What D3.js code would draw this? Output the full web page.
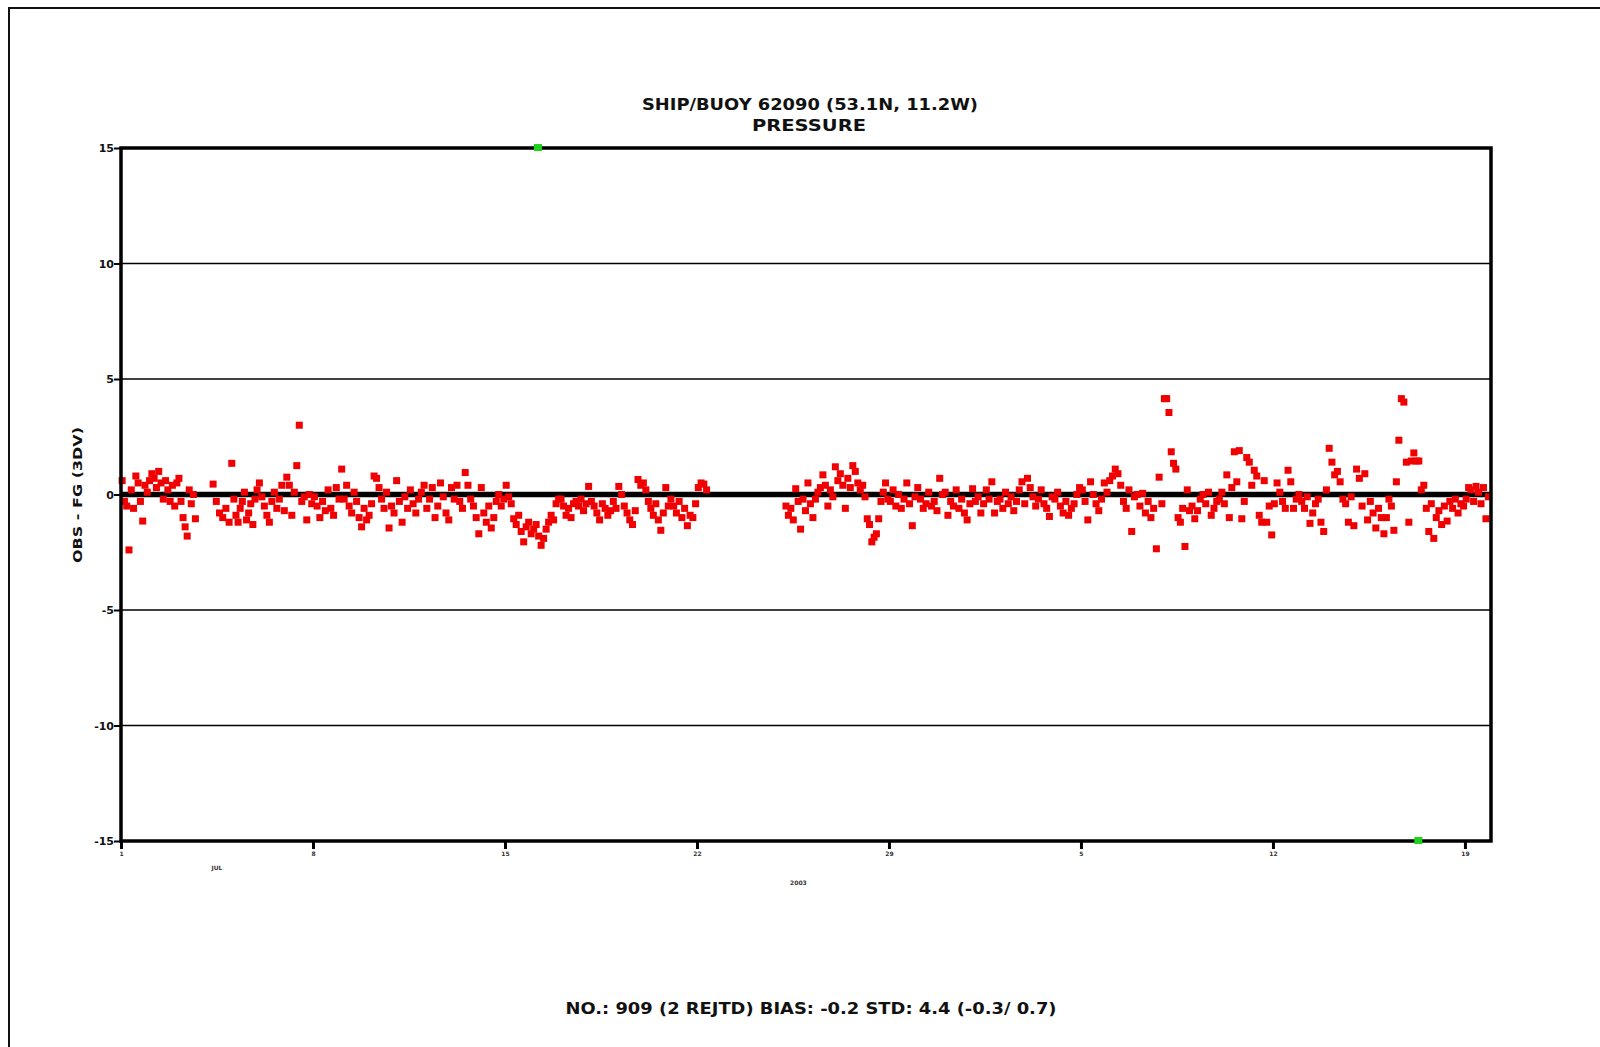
<!DOCTYPE html>
<html>
<head>
<meta charset="utf-8">
<script src="https://cdn.jsdelivr.net/npm/d3@7"></script>
<style>
  body { margin: 0; background: #fff; }
  svg { display: block; }
  text { font-family: "DejaVu Sans", Verdana, sans-serif; font-weight: bold; fill: #111; }
</style>
</head>
<body>
<div id="viz"></div>
<script>
// title / footer
var titleLines = ["SHIP/BUOY 62090 (53.1N, 11.2W)", "PRESSURE"];
var footer = "NO.: 909 (2 REJTD) BIAS: -0.2 STD: 4.4 (-0.3/ 0.7)";
var yTitle = "OBS - FG (3DV)";

// axis ticks (x in days after 1 Jul 2003)
var yTicks = [-15, -10, -5, 0, 5, 10, 15];
var xTickDays = [0, 7, 14, 21, 28, 35, 42, 49];
var xTickLabels = ["1", "8", "15", "22", "29", "5", "12", "19"];
var xMonthLabels = [{day: 3.5, text: "JUL", row: 1}, {day: 24.7, text: "2003", row: 2}];

// observation stretches: start day, end day, values (OBS - FG, hPa)
var segStart = [0, 1, 2, 3.3, 4, 5, 6, 7, 8, 9, 10, 11, 12, 13, 14, 15, 16, 17, 18, 19, 20, 21,
                24.2, 25, 26, 27, 28, 29, 30, 31, 32, 33, 34, 35, 36, 37, 38, 39, 40, 41, 42, 43, 44, 45, 46, 47, 48, 49];
var segEnd =   [1, 2, 2.75, 4, 5, 6, 7, 8, 9, 10, 11, 12, 13, 14, 15, 16, 17, 18, 19, 20, 21, 21.4,
                25, 26, 27, 28, 29, 30, 31, 32, 33, 34, 35, 36, 37, 38, 39, 40, 41, 42, 43, 44, 45, 46, 47, 48, 49, 49.9];
var segValues = [
  [0.6, -0.3, -0.5, -2.4, 0.2, -0.6, 0.8, 0.5, -0.3, -1.15, 0.4, 0.1],
  [0.6, 0.9, 0.7, 0.3, 1.0, 0.5, -0.2, 0.6, 0.2, -0.3, 0.4, -0.5],
  [0.5, 0.7, -0.3, -1.0, -1.4, -1.8, 0.2, -0.4, 0.0, -1.05],
  [0.45, -0.3, -0.8, -1.0, -0.6, -1.2],
  [1.35, -0.2, -0.9, -1.2, -0.6, -0.3, 0.1, -1.1, -0.8, -0.4, -1.3, -0.2, 0.2],
  [0.5, -0.1, -0.5, -0.9, -1.2, -0.3, 0.1, -0.6, -0.2, 0.4, -0.7],
  [0.75, 0.4, -0.9, 0.1, 1.25, 3.0, -0.3, -0.1, -1.1, 0.0, -0.4],
  [-0.1, -0.5, -1.0, -0.3, -0.7, 0.2, -0.6, -0.9, 0.3, -0.2],
  [1.1, -0.2, 0.4, -0.5, -0.8, 0.1, -0.3, -1.0, -1.4, -0.6, -1.1],
  [-0.9, -0.4, 0.8, 0.7, 0.3, -0.2, -0.6, 0.1, -1.45, -0.5, -0.8],
  [0.6, -0.3, -1.2, -0.1, -0.6, 0.2, -0.4, -0.8, -0.2, 0.1],
  [0.4, -0.6, -0.2, 0.3, -1.0, -0.5, 0.5, -0.1, -0.8, -1.1],
  [0.3, -0.2, 0.4, -0.3, -0.6, 0.95, 0.4, -0.2, -0.5, -1.0],
  [-1.7, 0.3, -0.8, -1.2, -0.5, -1.45, -1.0, -0.3, 0.0, -0.5, -0.2],
  [0.4, -0.1, -0.4, -1.05, -1.3, -0.9, -1.6, -2.05, -1.4, -1.2, -1.7],
  [-1.5, -1.3, -1.8, -2.2, -1.9, -1.5, -1.2, -0.9, -1.1, -0.4, -0.2],
  [-0.2, -0.5, -0.9, -0.6, -1.0, -0.4, -0.3, -0.5, -0.2, -0.7, -0.4],
  [0.35, -0.3, -0.5, -0.8, -1.1, -0.4, -0.6, -0.9, -0.7, -0.3],
  [-0.6, 0.35, 0.0, -0.5, -0.8, -1.1, -1.3, -0.7, 0.65, 0.4],
  [0.5, 0.2, -0.3, -0.6, -0.9, -0.4, -1.1, -1.55, -0.8, 0.3, -0.5],
  [-0.2, -0.5, -0.8, -0.3, -1.0, -0.6, -1.35, -0.9, -1.0, -0.4],
  [0.3, 0.5, 0.45, 0.2],
  [-0.5, -0.9, -0.6, -1.1, 0.25, -0.3, -1.5, -0.2, -0.7],
  [0.5, -0.4, -1.0, -0.2, 0.1, 0.3, 0.85, 0.4, -0.5, 0.2, -0.1],
  [1.2, 0.6, 0.9, 0.4, -0.6, 0.7, 0.3, 1.25, 1.0, 0.5, 0.2],
  [0.4, -0.1, -1.05, -1.3, -2.05, -1.85, -1.7, -1.05, -0.3, 0.1, 0.5, -0.2],
  [-0.3, 0.2, -0.5, 0.0, -0.6, -0.2, 0.5, -0.4, -1.35, -0.1],
  [0.3, -0.2, -0.6, -0.4, 0.1, -0.5, -0.3, -0.7, 0.7, 0.0],
  [0.1, -0.9, -0.3, -0.5, 0.2, -0.6, -0.2, -0.8, -1.1, -0.4],
  [0.25, -0.3, -0.1, -0.8, -0.4, 0.2, -0.2, 0.55, -0.8, -0.3],
  [-0.2, -0.6, 0.1, -0.4, -0.1, -0.7, -0.3, 0.2, 0.55, -0.4],
  [0.7, 0.3, -0.1, -0.5, -0.2, 0.2, -0.4, -0.6, -0.95, -0.1],
  [-0.2, 0.1, -0.5, -0.8, -0.3, -0.9, -0.6, -0.4, 0.0, 0.3],
  [0.2, -0.3, -1.1, 0.55, 0.0, -0.4, -0.7, -0.2, 0.5, 0.1],
  [0.6, 0.8, 1.1, 0.9, 0.4, -0.3, -0.6, 0.2, -1.6, -0.1],
  [0.0, -0.5, 0.05, -0.8, -0.3, -1.0, -0.6, -2.35, 0.75, -0.4],
  [4.15, 4.15, 3.55, 1.85, 1.35, 1.1, -1.0, -1.2, -0.6, -2.25, 0.2, -0.7],
  [-0.5, -1.05, -0.7, -0.2, 0.0, -0.4, 0.1, -0.9, -0.6, -0.3],
  [-0.2, 0.1, -0.4, 0.85, -1.0, 0.3, 1.85, 0.55, 1.9, -1.05, -0.3],
  [1.6, 1.4, 0.4, 1.05, 0.8, -0.9, -1.2, 0.6, -1.2, -0.5, -1.75],
  [-0.4, 0.5, 0.1, -0.3, -0.6, 1.05, 0.55, -0.6, -0.2, 0.0],
  [-0.3, -0.6, -0.1, -1.25, -0.8, -0.4, -0.2, -1.2, -1.6, 0.2],
  [2.0, 1.4, 0.85, 1.0, 0.55, -0.2, -0.4, -1.2, -0.1, -1.35],
  [1.1, 0.7, -0.5, 0.9, -1.1, -0.3, -0.8, -1.45, -0.6, -1.0],
  [-1.7, -1.0, -0.2, -0.5, -1.55, 0.55, 2.35, 4.15, 4.0, 1.4, -1.2],
  [1.45, 1.8, 1.45, 1.45, 0.2, 0.4, -0.6, -1.6, -0.4, -1.9, -1.0],
  [-0.7, -1.3, -0.5, -1.15, -0.3, -0.6, -0.2, -0.8, -0.4, -0.5],
  [-0.2, 0.3, 0.2, -0.3, 0.35, 0.1, -0.4, 0.3, -1.05, -0.1]
];

// rejected observations (plotted at the axis limit)
var rejDays = [15.2, 47.3];
var rejValues = [15, -15];

var W = 1600, H = 1047;
var svg = d3.select("#viz").append("svg").attr("width", W).attr("height", H);

// page frame
svg.append("rect")
    .attr("x", 9).attr("y", 8).attr("width", 1700).attr("height", 1200)
    .style("fill", "none").style("stroke", "#111").style("stroke-width", 2);

var x = d3.scaleLinear().domain([0, 49.95]).range([121, 1491]);
var y = d3.scaleLinear().domain([-15, 15]).range([841, 148]);

// gridlines
svg.append("g").selectAll("line")
    .data(yTicks.filter(function(d){ return d !== 0 && Math.abs(d) !== 15; }))
    .enter().append("line")
    .attr("x1", x.range()[0]).attr("x2", x.range()[1])
    .attr("y1", function(d){ return y(d); }).attr("y2", function(d){ return y(d); })
    .style("stroke", "#000").style("stroke-width", 1.4);

// zero line
svg.append("line")
    .attr("x1", x.range()[0]).attr("x2", x.range()[1])
    .attr("y1", y(0)).attr("y2", y(0))
    .style("stroke", "#000").style("stroke-width", 5.5);

// y axis ticks + labels
var yAxis = d3.axisLeft(y).tickValues(yTicks).tickSize(7).tickFormat(function(d){ return String(d); });
var yg = svg.append("g").attr("transform", "translate(" + x.range()[0] + ",0)").call(yAxis);
yg.select(".domain").remove();
yg.selectAll("line").style("stroke", "#000").style("stroke-width", 2);
yg.selectAll("text").attr("x", -7).attr("dy", "0.35em")
    .style("font-size", "11px").style("font-family", "DejaVu Sans, sans-serif").style("font-weight", "bold").style("fill", "#111");

// x axis ticks + labels
var xAxis = d3.axisBottom(x).tickValues(xTickDays).tickSize(8)
    .tickFormat(function(d, i){ return xTickLabels[i]; });
var xg = svg.append("g").attr("transform", "translate(0," + y.range()[0] + ")").call(xAxis);
xg.select(".domain").remove();
xg.selectAll("line").style("stroke", "#000").style("stroke-width", 3);
xg.selectAll("text").attr("y", 11)
    .style("font-size", "6px").style("font-family", "DejaVu Sans, sans-serif").style("font-weight", "bold").style("fill", "#333");

svg.append("g").selectAll("text").data(xMonthLabels).enter().append("text")
    .attr("x", function(d){ return x(d.day); })
    .attr("y", function(d){ return d.row == 1 ? 870 : 885; })
    .attr("text-anchor", "middle")
    .style("font-size", "6px").style("fill", "#333")
    .text(function(d){ return d.text; });

// points
var pts = [];
segValues.forEach(function(vals, i){
  var a = segStart[i], b = segEnd[i];
  vals.forEach(function(v, j){
    pts.push({t: a + (b - a) * (j + 0.5) / vals.length, v: v});
  });
});

var sq = 7;
svg.append("g").selectAll("rect").data(pts).enter().append("rect")
    .attr("x", function(d){ return x(d.t) - sq / 2; })
    .attr("y", function(d){ return y(d.v) - sq / 2; })
    .attr("width", sq).attr("height", sq)
    .style("fill", "#f00000");

// plot frame
svg.append("rect")
    .attr("x", x.range()[0]).attr("y", y.range()[1])
    .attr("width", x.range()[1] - x.range()[0]).attr("height", y.range()[0] - y.range()[1])
    .style("fill", "none").style("stroke", "#000").style("stroke-width", 3.5);

// rejected
svg.append("g").selectAll("rect").data(rejDays).enter().append("rect")
    .attr("x", function(d){ return x(d) - 4; })
    .attr("y", function(d, i){ return y(rejValues[i]) - 4; })
    .attr("width", 8).attr("height", 7)
    .style("fill", "#1ed21e");

// titles
svg.append("text").attr("x", 810).attr("y", 110).attr("text-anchor", "middle")
    .attr("textLength", 336).attr("lengthAdjust", "spacingAndGlyphs")
    .style("font-size", "15px").text(titleLines[0]);
svg.append("text").attr("x", 809).attr("y", 131).attr("text-anchor", "middle")
    .attr("textLength", 114).attr("lengthAdjust", "spacingAndGlyphs")
    .style("font-size", "15px").text(titleLines[1]);

svg.append("text").attr("transform", "translate(82,495) rotate(-90)")
    .attr("text-anchor", "middle")
    .attr("textLength", 136).attr("lengthAdjust", "spacingAndGlyphs")
    .style("font-size", "13px").text(yTitle);

svg.append("text").attr("x", 811).attr("y", 1014).attr("text-anchor", "middle")
    .attr("textLength", 491).attr("lengthAdjust", "spacingAndGlyphs")
    .style("font-size", "16px").text(footer);
</script>
</body>
</html>
